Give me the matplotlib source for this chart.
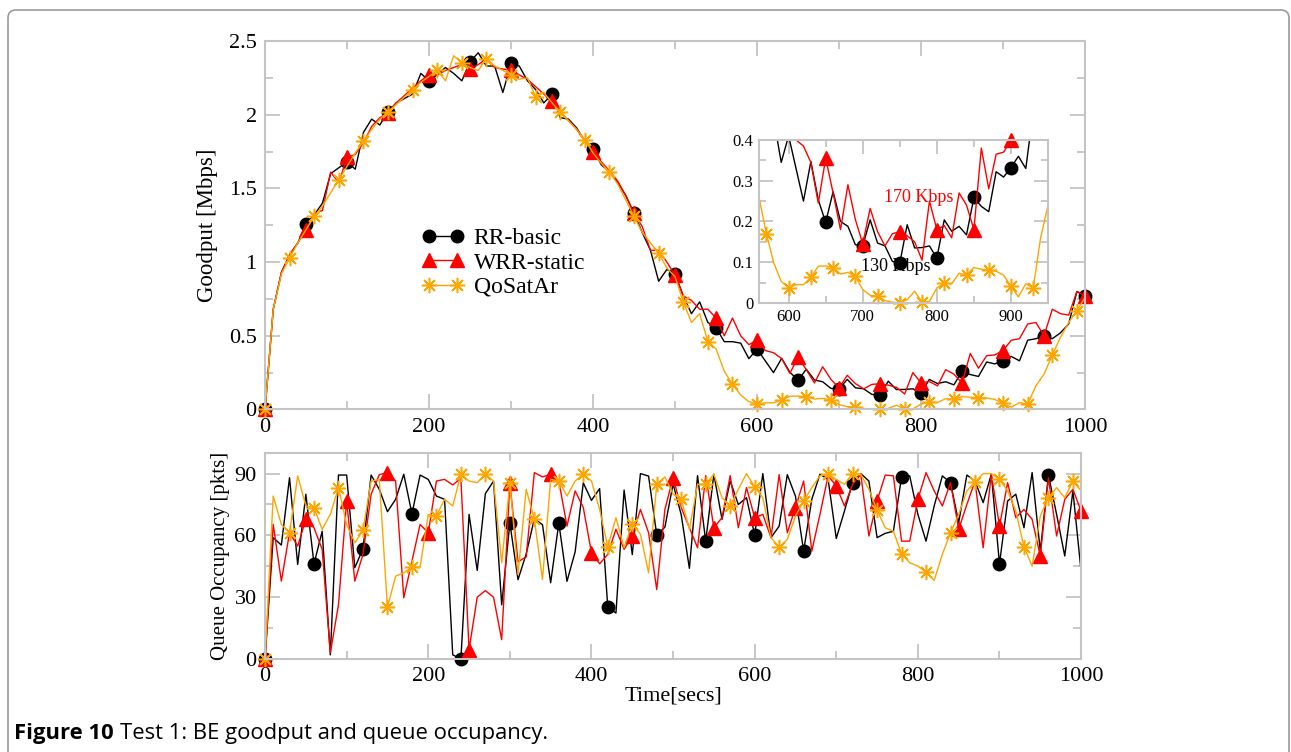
import numpy as np
import matplotlib
matplotlib.use('Agg')
import matplotlib.pyplot as plt
from matplotlib.patches import FancyBboxPatch
from matplotlib.transforms import IdentityTransform
from matplotlib.ticker import MultipleLocator

plt.rcParams['font.family'] = ['Liberation Serif', 'DejaVu Serif']
plt.rcParams['mathtext.fontset'] = 'stix'

# time axis, one sample every 10 s
t = np.arange(0, 1001, 10)

# BE goodput [Mbps]
rr_goodput = [
    0.00, 0.68, 0.93, 1.05, 1.13, 1.26, 1.32, 1.40, 1.60, 1.64,
    1.68, 1.63, 1.88, 1.97, 1.93, 2.02, 2.08, 2.11, 2.14, 2.28,
    2.23, 2.27, 2.32, 2.28, 2.23, 2.36, 2.42, 2.33, 2.33, 2.15,
    2.35, 2.33, 2.23, 2.17, 2.08, 2.14, 1.98, 1.97, 1.91, 1.82,
    1.77, 1.66, 1.61, 1.54, 1.45, 1.33, 1.20, 1.08, 0.87, 0.95,
    0.92, 0.77, 0.65, 0.73, 0.59, 0.555, 0.46, 0.46, 0.45, 0.345,
    0.41, 0.33, 0.25, 0.347, 0.253, 0.198, 0.273, 0.20, 0.188, 0.143,
    0.14, 0.204, 0.147, 0.14, 0.102, 0.098, 0.192, 0.135, 0.136, 0.14,
    0.11, 0.204, 0.176, 0.188, 0.167, 0.259, 0.237, 0.224, 0.322, 0.309,
    0.332, 0.36, 0.33, 0.47, 0.48, 0.50, 0.48, 0.52, 0.58, 0.80,
    0.77]
wrr_goodput = [
    0.00, 0.68, 0.93, 1.05, 1.13, 1.22, 1.33, 1.35, 1.61, 1.54,
    1.71, 1.73, 1.81, 1.92, 1.98, 2.01, 2.08, 2.13, 2.18, 2.23,
    2.27, 2.27, 2.30, 2.32, 2.34, 2.31, 2.34, 2.38, 2.32, 2.31,
    2.30, 2.27, 2.24, 2.19, 2.14, 2.09, 2.02, 1.96, 1.90, 1.82,
    1.75, 1.68, 1.62, 1.55, 1.45, 1.33, 1.24, 1.08, 1.08, 1.00,
    0.91, 0.77, 0.74, 0.68, 0.68, 0.62, 0.50, 0.62, 0.50, 0.44,
    0.47, 0.40, 0.385, 0.345, 0.245, 0.355, 0.27, 0.18, 0.29, 0.205,
    0.145, 0.232, 0.175, 0.14, 0.17, 0.175, 0.165, 0.15, 0.105, 0.25,
    0.18, 0.19, 0.16, 0.27, 0.24, 0.18, 0.38, 0.28, 0.365, 0.37,
    0.40, 0.47, 0.48, 0.58, 0.59, 0.50, 0.68, 0.65, 0.64, 0.80,
    0.77]
qos_goodput = [
    0.00, 0.68, 0.92, 1.03, 1.13, 1.22, 1.31, 1.38, 1.47, 1.56,
    1.65, 1.74, 1.82, 1.90, 1.97, 2.02, 2.07, 2.12, 2.17, 2.22,
    2.26, 2.30, 2.23, 2.40, 2.35, 2.32, 2.30, 2.38, 2.33, 2.30,
    2.27, 2.24, 2.25, 2.12, 2.15, 2.08, 2.02, 1.96, 1.90, 1.83,
    1.74, 1.67, 1.61, 1.53, 1.42, 1.31, 1.20, 1.13, 1.06, 0.96,
    0.90, 0.73, 0.59, 0.65, 0.46, 0.41, 0.26, 0.17, 0.098, 0.053,
    0.037, 0.045, 0.045, 0.063, 0.09, 0.091, 0.087, 0.071, 0.075, 0.065,
    0.033, 0.019, 0.016, 0.006, 0.002, 0.0, 0.008, 0.029, 0.002, 0.004,
    0.037, 0.049, 0.047, 0.073, 0.069, 0.087, 0.083, 0.08, 0.078, 0.068,
    0.041, 0.015, 0.047, 0.037, 0.16, 0.24, 0.37, 0.49, 0.59, 0.67,
    0.76]

# queue occupancy [pkts]
rr_queue = [
    0, 58.9, 55.3, 88, 45.9, 80, 46.2, 62, 2, 89.3,
    89.3, 44.3, 53.5, 89.3, 82.4, 71.5, 77.5, 89.7, 70.5, 89.3,
    87.2, 79.1, 77.5, 2, 0, 70.2, 43, 80.3, 86.3, 26.3,
    66, 38.5, 51, 68, 65.2, 37, 66, 37.7, 52, 85.5,
    77, 82.7, 25.2, 22.3, 82, 50.7, 90, 88.8, 60.2, 64,
    85, 70, 44, 89, 57.2, 89.7, 67.8, 86.4, 75, 78.3,
    60.2, 90, 58.9, 64.5, 89.5, 79, 52.4, 77.5, 89.7, 87.2,
    58.5, 71.8, 85.6, 90, 86.4, 58.9, 61, 62, 88.4, 88.9,
    70.2, 57.2, 74.3, 88.9, 85.6, 66.2, 89.3, 86.4, 75.9, 89.7,
    46.2, 76.7, 80, 63.7, 90.5, 52.4, 89.3, 70.2, 50, 81.6,
    42.6]
wrr_queue = [
    0, 65.3, 37.8, 61.3, 54.8, 67.8, 63.7, 53.2, 2.9, 26.4,
    76.7, 37.8, 50.8, 80, 89.5, 90.5, 86.4, 29.7, 47.5, 65.3,
    61.3, 86.4, 87.2, 84.5, 87.7, 4.5, 30, 33.2, 30, 9.4,
    85.6, 47.2, 49.5, 90.5, 88.4, 89.7, 86.4, 64.5, 81.6, 73.5,
    51.6, 46.2, 50.8, 63, 53.2, 59.7, 72.6, 61.3, 33.7, 72.6,
    88, 73.5, 63.7, 54, 89, 63.7, 68.6, 89, 63.7, 83.2,
    68.6, 70.2, 58.9, 89.5, 61.3, 73.5, 86.4, 52.4, 70.2, 88.9,
    84, 74.3, 84.8, 89.7, 59.7, 76.7, 89.3, 88.9, 57.2, 57.2,
    77.5, 90.5, 81.6, 74.3, 85.6, 63, 75, 86.4, 54, 89.7,
    64.5, 85.6, 68.6, 72.6, 67.8, 50, 88, 59.7, 77.5, 82.4,
    71.8]
qos_queue = [
    0, 79.1, 65.3, 61.3, 88.9, 74.3, 73.5, 62.9, 70.2, 83.2,
    65.3, 56.4, 62.4, 86.4, 87.2, 25.1, 40.2, 41.8, 44.6, 44.6,
    70.2, 69.4, 77.5, 74.3, 89.7, 86.4, 85.6, 89.7, 86.4, 46.7,
    85.6, 41, 82.4, 67.8, 38.6, 87.2, 86.4, 79.1, 86.4, 89.7,
    86.4, 72.6, 54.5, 68.6, 54, 65.7, 60.5, 41.8, 84.8, 88.4,
    80, 77.5, 62.9, 84.8, 84.8, 89.7, 78.3, 74.3, 82.4, 90,
    83.5, 78.3, 58.9, 54.3, 58, 69.4, 76.7, 83.2, 88.9, 89.7,
    87.2, 84.8, 90, 89.7, 82.4, 72.2, 63.7, 62, 51.1, 46.7,
    45.1, 42.2, 38.1, 50.8, 61.3, 70.2, 81.6, 85.9, 90, 90,
    87.2, 81.6, 71.8, 54.5, 45.1, 69.4, 78.3, 83.2, 78.3, 86.4,
    81.6]

names = ['RR-basic', 'WRR-static', 'QoSatAr']
colors = ['#000000', '#ff0000', '#ffa500']
GRID = '#c4c4c4'

rr_style = dict(color=colors[0], marker='o', ms=9, lw=1.0)
wrr_style = dict(color=colors[1], marker='^', ms=10, lw=1.0)
qos_style = dict(color=colors[2], marker=(8, 2, 0), ms=11, mew=1.1, lw=1.0)


def style_axes(ax, size=16, major=11, minor=5.5):
    for sp in ax.spines.values():
        sp.set_color(GRID)
        sp.set_linewidth(1.5)
    ax.tick_params(which='both', direction='in', top=True, right=True,
                   color=GRID, width=1.3, labelsize=size, pad=6)
    ax.tick_params(which='major', length=major)
    ax.tick_params(which='minor', length=minor)


fig = plt.figure(figsize=(12.91, 7.52), dpi=100)

# --- goodput ---
ax1 = fig.add_axes([0.2053, 0.4555, 0.6352, 0.4900])
ax1.plot(t, rr_goodput, markevery=5, clip_on=False, label=names[0], **rr_style)
ax1.plot(t, wrr_goodput, markevery=5, clip_on=False, label=names[1], **wrr_style)
ax1.plot(t, qos_goodput, markevery=3, clip_on=False, label=names[2], **qos_style)
ax1.set_xlim(0, 1000)
ax1.set_ylim(0, 2.5)
ax1.xaxis.set_major_locator(MultipleLocator(200))
ax1.xaxis.set_minor_locator(MultipleLocator(100))
ax1.yaxis.set_major_locator(MultipleLocator(0.5))
ax1.yaxis.set_minor_locator(MultipleLocator(0.25))
ax1.set_yticks([0, 0.5, 1, 1.5, 2, 2.5], ['0', '0.5', '1', '1.5', '2', '2.5'])
style_axes(ax1)
ax1.set_ylabel('Goodput [Mbps]', fontsize=16.5)
ax1.yaxis.set_label_coords(-0.057, 0.5)
ax1.legend(loc='center left', bbox_to_anchor=(0.191, 0.398), frameon=False,
           fontsize=17, numpoints=2, handlelength=1.78, handletextpad=0.42,
           labelspacing=0.12, borderpad=0, borderaxespad=0)

# --- zoomed view of the trough ---
axin = fig.add_axes([0.5879, 0.5971, 0.2239, 0.2168], zorder=5)
axin.set_facecolor('white')
series = [(rr_goodput, rr_style, 5), (wrr_goodput, wrr_style, 5), (qos_goodput, qos_style, 3)]
for y, st, every in series:
    line_st = {k: v for k, v in st.items() if k in ('color', 'lw')}
    axin.plot(t, y, **line_st)
    tm = t[::every]
    ym = np.asarray(y)[::every]
    keep = (tm >= 560) & (tm <= 950) & (ym <= 0.405)
    mk = {k: v for k, v in st.items() if k not in ('lw',)}
    axin.plot(tm[keep], ym[keep], ls='none', clip_on=False, **mk)
axin.set_xlim(560, 950)
axin.set_ylim(0, 0.4)
axin.xaxis.set_major_locator(MultipleLocator(100))
axin.xaxis.set_minor_locator(MultipleLocator(50))
axin.yaxis.set_major_locator(MultipleLocator(0.1))
axin.yaxis.set_minor_locator(MultipleLocator(0.05))
axin.set_yticks([0, 0.1, 0.2, 0.3, 0.4], ['0', '0.1', '0.2', '0.3', '0.4'])
style_axes(axin, size=12, major=10, minor=5)
axin.tick_params(pad=4)
axin.text(775, 0.258, '170 Kbps', color='#ff0000', fontsize=13, ha='center', va='center')
axin.text(745, 0.09, '130 Kbps', color='black', fontsize=13, ha='center', va='center')

# --- queue occupancy ---
ax2 = fig.add_axes([0.2053, 0.1237, 0.6321, 0.2739])
ax2.plot(t, rr_queue, markevery=6, clip_on=False, **rr_style)
ax2.plot(t, wrr_queue, markevery=5, clip_on=False, **wrr_style)
ax2.plot(t, qos_queue, markevery=3, clip_on=False, **qos_style)
ax2.set_xlim(0, 1000)
ax2.set_ylim(0, 100)
ax2.xaxis.set_major_locator(MultipleLocator(200))
ax2.xaxis.set_minor_locator(MultipleLocator(100))
ax2.set_yticks([0, 30, 60, 90])
ax2.yaxis.set_minor_locator(MultipleLocator(15))
style_axes(ax2)
ax2.set_ylabel('Queue Occupancy [pkts]', fontsize=15)
ax2.yaxis.set_label_coords(-0.043, 0.5)
ax2.set_xlabel('Time[secs]', fontsize=16)
ax2.xaxis.set_label_coords(0.5, -0.135)

# page frame and caption
frame = FancyBboxPatch((8, -20), 1281, 762, boxstyle='round,pad=0,rounding_size=8',
                       transform=IdentityTransform(), fc='none', ec='#9a9a9a', lw=1.2)
fig.patches.append(frame)

cap1 = fig.text(14 / 1291, 1 - 733 / 752, 'Figure 10', family='Open Sans',
                fontweight='bold', fontsize=15.8, va='center', ha='left')
renderer = fig.canvas.get_renderer()
bb = cap1.get_window_extent(renderer)
fig.text((bb.x1 + 6) / 1291, 1 - 733 / 752, 'Test 1: BE goodput and queue occupancy.',
         family='Open Sans', fontsize=15.8, va='center', ha='left')

fig.savefig('out.png', dpi=100)
